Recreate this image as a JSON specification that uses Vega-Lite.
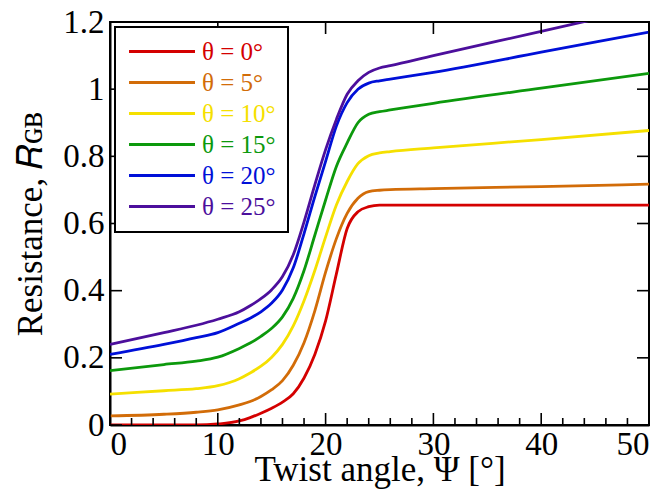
{
  "$schema": "https://vega.github.io/schema/vega-lite/v6.json",
  "width": 539,
  "height": 403,
  "autosize": "none",
  "padding": {"left": 110, "top": 22, "right": 15, "bottom": 66},
  "background": "white",
  "config": {
    "view": {"stroke": "black", "strokeWidth": 2},
    "font": "Liberation Serif",
    "axis": {"domainColor": "black", "domainWidth": 2, "labelColor": "black", "titleColor": "black", "labelFont": "Liberation Serif", "titleFont": "Liberation Serif", "labelFontSize": 33, "titleFontSize": 35, "titleFontWeight": "normal", "grid": false}
  },
  "datasets": {
    "curves": [
      {"psi":0,"R":0,"s":"θ = 0°"},{"psi":5,"R":0,"s":"θ = 0°"},{"psi":8,"R":0,"s":"θ = 0°"},{"psi":10,"R":0.003,"s":"θ = 0°"},{"psi":12,"R":0.012,"s":"θ = 0°"},{"psi":13,"R":0.022,"s":"θ = 0°"},{"psi":14,"R":0.035,"s":"θ = 0°"},{"psi":15,"R":0.05,"s":"θ = 0°"},{"psi":16,"R":0.068,"s":"θ = 0°"},{"psi":17,"R":0.093,"s":"θ = 0°"},{"psi":18,"R":0.14,"s":"θ = 0°"},{"psi":19,"R":0.21,"s":"θ = 0°"},{"psi":20,"R":0.31,"s":"θ = 0°"},{"psi":21,"R":0.45,"s":"θ = 0°"},{"psi":22,"R":0.585,"s":"θ = 0°"},{"psi":23,"R":0.635,"s":"θ = 0°"},{"psi":24,"R":0.65,"s":"θ = 0°"},{"psi":25,"R":0.655,"s":"θ = 0°"},{"psi":26,"R":0.655,"s":"θ = 0°"},{"psi":30,"R":0.655,"s":"θ = 0°"},{"psi":40,"R":0.655,"s":"θ = 0°"},{"psi":50,"R":0.655,"s":"θ = 0°"},
      {"psi":0,"R":0.027,"s":"θ = 5°"},{"psi":5,"R":0.032,"s":"θ = 5°"},{"psi":8,"R":0.038,"s":"θ = 5°"},{"psi":10,"R":0.045,"s":"θ = 5°"},{"psi":12,"R":0.06,"s":"θ = 5°"},{"psi":13,"R":0.07,"s":"θ = 5°"},{"psi":14,"R":0.085,"s":"θ = 5°"},{"psi":15,"R":0.105,"s":"θ = 5°"},{"psi":16,"R":0.132,"s":"θ = 5°"},{"psi":17,"R":0.178,"s":"θ = 5°"},{"psi":18,"R":0.245,"s":"θ = 5°"},{"psi":19,"R":0.34,"s":"θ = 5°"},{"psi":20,"R":0.455,"s":"θ = 5°"},{"psi":21,"R":0.555,"s":"θ = 5°"},{"psi":22,"R":0.63,"s":"θ = 5°"},{"psi":23,"R":0.675,"s":"θ = 5°"},{"psi":24,"R":0.695,"s":"θ = 5°"},{"psi":25,"R":0.699,"s":"θ = 5°"},{"psi":26,"R":0.701,"s":"θ = 5°"},{"psi":30,"R":0.704,"s":"θ = 5°"},{"psi":40,"R":0.71,"s":"θ = 5°"},{"psi":50,"R":0.717,"s":"θ = 5°"},
      {"psi":0,"R":0.092,"s":"θ = 10°"},{"psi":5,"R":0.102,"s":"θ = 10°"},{"psi":8,"R":0.108,"s":"θ = 10°"},{"psi":10,"R":0.117,"s":"θ = 10°"},{"psi":12,"R":0.138,"s":"θ = 10°"},{"psi":13,"R":0.155,"s":"θ = 10°"},{"psi":14,"R":0.175,"s":"θ = 10°"},{"psi":15,"R":0.202,"s":"θ = 10°"},{"psi":16,"R":0.24,"s":"θ = 10°"},{"psi":17,"R":0.295,"s":"θ = 10°"},{"psi":18,"R":0.37,"s":"θ = 10°"},{"psi":19,"R":0.46,"s":"θ = 10°"},{"psi":20,"R":0.56,"s":"θ = 10°"},{"psi":21,"R":0.655,"s":"θ = 10°"},{"psi":22,"R":0.725,"s":"θ = 10°"},{"psi":23,"R":0.778,"s":"θ = 10°"},{"psi":24,"R":0.802,"s":"θ = 10°"},{"psi":25,"R":0.81,"s":"θ = 10°"},{"psi":26,"R":0.814,"s":"θ = 10°"},{"psi":30,"R":0.825,"s":"θ = 10°"},{"psi":40,"R":0.85,"s":"θ = 10°"},{"psi":50,"R":0.877,"s":"θ = 10°"},
      {"psi":0,"R":0.162,"s":"θ = 15°"},{"psi":5,"R":0.18,"s":"θ = 15°"},{"psi":8,"R":0.19,"s":"θ = 15°"},{"psi":10,"R":0.202,"s":"θ = 15°"},{"psi":12,"R":0.228,"s":"θ = 15°"},{"psi":13,"R":0.244,"s":"θ = 15°"},{"psi":14,"R":0.264,"s":"θ = 15°"},{"psi":15,"R":0.288,"s":"θ = 15°"},{"psi":16,"R":0.322,"s":"θ = 15°"},{"psi":17,"R":0.377,"s":"θ = 15°"},{"psi":18,"R":0.46,"s":"θ = 15°"},{"psi":19,"R":0.565,"s":"θ = 15°"},{"psi":20,"R":0.67,"s":"θ = 15°"},{"psi":21,"R":0.77,"s":"θ = 15°"},{"psi":22,"R":0.84,"s":"θ = 15°"},{"psi":23,"R":0.9,"s":"θ = 15°"},{"psi":24,"R":0.925,"s":"θ = 15°"},{"psi":25,"R":0.933,"s":"θ = 15°"},{"psi":26,"R":0.938,"s":"θ = 15°"},{"psi":30,"R":0.958,"s":"θ = 15°"},{"psi":40,"R":1.003,"s":"θ = 15°"},{"psi":50,"R":1.047,"s":"θ = 15°"},
      {"psi":0,"R":0.21,"s":"θ = 20°"},{"psi":5,"R":0.24,"s":"θ = 20°"},{"psi":8,"R":0.26,"s":"θ = 20°"},{"psi":10,"R":0.275,"s":"θ = 20°"},{"psi":12,"R":0.303,"s":"θ = 20°"},{"psi":13,"R":0.318,"s":"θ = 20°"},{"psi":14,"R":0.337,"s":"θ = 20°"},{"psi":15,"R":0.363,"s":"θ = 20°"},{"psi":16,"R":0.402,"s":"θ = 20°"},{"psi":17,"R":0.468,"s":"θ = 20°"},{"psi":18,"R":0.57,"s":"θ = 20°"},{"psi":19,"R":0.68,"s":"θ = 20°"},{"psi":20,"R":0.785,"s":"θ = 20°"},{"psi":21,"R":0.89,"s":"θ = 20°"},{"psi":22,"R":0.96,"s":"θ = 20°"},{"psi":23,"R":1.0,"s":"θ = 20°"},{"psi":24,"R":1.018,"s":"θ = 20°"},{"psi":25,"R":1.025,"s":"θ = 20°"},{"psi":26,"R":1.03,"s":"θ = 20°"},{"psi":30,"R":1.05,"s":"θ = 20°"},{"psi":40,"R":1.11,"s":"θ = 20°"},{"psi":50,"R":1.17,"s":"θ = 20°"},
      {"psi":0,"R":0.24,"s":"θ = 25°"},{"psi":5,"R":0.275,"s":"θ = 25°"},{"psi":8,"R":0.297,"s":"θ = 25°"},{"psi":10,"R":0.315,"s":"θ = 25°"},{"psi":12,"R":0.337,"s":"θ = 25°"},{"psi":13,"R":0.355,"s":"θ = 25°"},{"psi":14,"R":0.376,"s":"θ = 25°"},{"psi":15,"R":0.403,"s":"θ = 25°"},{"psi":16,"R":0.442,"s":"θ = 25°"},{"psi":17,"R":0.507,"s":"θ = 25°"},{"psi":18,"R":0.605,"s":"θ = 25°"},{"psi":19,"R":0.715,"s":"θ = 25°"},{"psi":20,"R":0.82,"s":"θ = 25°"},{"psi":21,"R":0.91,"s":"θ = 25°"},{"psi":22,"R":0.985,"s":"θ = 25°"},{"psi":23,"R":1.025,"s":"θ = 25°"},{"psi":24,"R":1.05,"s":"θ = 25°"},{"psi":25,"R":1.063,"s":"θ = 25°"},{"psi":26,"R":1.07,"s":"θ = 25°"},{"psi":30,"R":1.1,"s":"θ = 25°"},{"psi":40,"R":1.172,"s":"θ = 25°"},{"psi":50,"R":1.245,"s":"θ = 25°"}
    ],
    "xt": [{"t":0},{"t":2},{"t":4},{"t":6},{"t":8},{"t":10},{"t":12},{"t":14},{"t":16},{"t":18},{"t":20},{"t":22},{"t":24},{"t":26},{"t":28},{"t":30},{"t":32},{"t":34},{"t":36},{"t":38},{"t":40},{"t":42},{"t":44},{"t":46},{"t":48},{"t":50}],
    "yt": [{"v":0},{"v":0.2},{"v":0.4},{"v":0.6},{"v":0.8},{"v":1},{"v":1.2}]
  },
  "data": {"name": "curves"},
  "resolve": {"axis": {"x": "independent", "y": "independent"}},
  "layer": [
    {
      "mark": {"type": "line", "strokeWidth": 2.8, "clip": true, "interpolate": "monotone"},
      "encoding": {
        "x": {"field": "psi", "type": "quantitative", "scale": {"domain": [0, 50], "nice": false},
          "axis": {"orient": "bottom", "title": "Twist angle, Ψ [°]", "values": [0, 10, 20, 30, 40, 50], "ticks": false,
            "labelOverlap": false, "labelPadding": 3, "titlePadding": -9}},
        "y": {"field": "R", "type": "quantitative", "scale": {"domain": [0, 1.2], "nice": false},
          "axis": {"orient": "left", "title": "Resistance, 𝑅ɢʙ", "values": [0, 0.2, 0.4, 0.6, 0.8, 1, 1.2], "format": "~g", "ticks": false,
            "labelPadding": 6, "titlePadding": 14}},
        "color": {"field": "s", "type": "nominal", "sort": ["θ = 0°","θ = 5°","θ = 10°","θ = 15°","θ = 20°","θ = 25°"],
          "scale": {"domain": ["θ = 0°","θ = 5°","θ = 10°","θ = 15°","θ = 20°","θ = 25°"], "range": ["#d40000","#d26c08","#f5e000","#0c990c","#0010d8","#4c0f9c"]},
          "legend": {"title": null, "orient": "top-left", "offset": 5, "padding": 12, "strokeColor": "black", "fillColor": "white",
            "symbolType": "M-1.27,0H6.73", "symbolSize": 272, "symbolStrokeWidth": 3, "labelFont": "Liberation Serif", "labelFontSize": 25, "labelOffset": 50, "rowPadding": 5,
            "encode": {"labels": {"update": {"fill": {"scale": "color", "field": "value"}}}, "legend": {"update": {"strokeWidth": {"value": 2}}}}}
        }
      }
    },
    {
      "data": {"name": "xt"},
      "mark": {"type": "tick", "orient": "vertical", "color": "black", "thickness": 1.6, "clip": true, "opacity": 1},
      "encoding": {
        "x": {"field": "t", "type": "quantitative", "scale": {"domain": [0, 50], "nice": false}, "axis": null},
        "y": {"datum": 0, "type": "quantitative", "axis": null},
        "size": {"condition": {"test": "datum.t % 10 === 0", "value": 24}, "value": 14}
      }
    },
    {
      "data": {"name": "xt"},
      "transform": [{"filter": "datum.t % 10 === 0"}],
      "mark": {"type": "tick", "orient": "vertical", "color": "black", "thickness": 1.6, "clip": true, "opacity": 1, "size": 24},
      "encoding": {
        "x": {"field": "t", "type": "quantitative", "scale": {"domain": [0, 50], "nice": false}, "axis": null},
        "y": {"datum": 1.2, "type": "quantitative", "axis": null}
      }
    },
    {
      "data": {"name": "yt"},
      "mark": {"type": "tick", "orient": "horizontal", "color": "black", "thickness": 1.6, "clip": true, "opacity": 1, "size": 24},
      "encoding": {
        "y": {"field": "v", "type": "quantitative", "scale": {"domain": [0, 1.2], "nice": false}, "axis": null},
        "x": {"datum": 0, "type": "quantitative", "axis": null}
      }
    },
    {
      "data": {"name": "yt"},
      "mark": {"type": "tick", "orient": "horizontal", "color": "black", "thickness": 1.6, "clip": true, "opacity": 1, "size": 24},
      "encoding": {
        "y": {"field": "v", "type": "quantitative", "scale": {"domain": [0, 1.2], "nice": false}, "axis": null},
        "x": {"datum": 50, "type": "quantitative", "axis": null}
      }
    }
  ]
}
